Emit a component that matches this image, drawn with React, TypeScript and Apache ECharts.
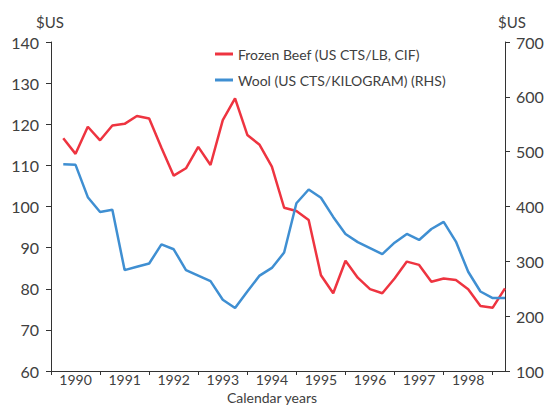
import React, { useEffect, useRef } from "react";
import * as echarts from "echarts";

const years = ["1990", "1991", "1992", "1993", "1994", "1995", "1996", "1997", "1998"];

// quarterly observations (index 1..37 on the time axis)
const beef = [
  116.6, 112.8, 119.4, 116.1, 119.7, 120.1, 122.0, 121.4, 114.3, 107.5,
  109.3, 114.5, 110.1, 121.0, 126.3, 117.4, 115.0, 109.7, 99.7, 98.9,
  96.7, 83.3, 78.9, 86.8, 82.7, 79.9, 78.9, 82.5, 86.6, 85.8,
  81.7, 82.5, 82.1, 79.9, 75.8, 75.4, 80.1,
];
const wool = [
  477, 476, 417, 390, 394, 284, 290, 296, 331, 322,
  284, 274, 264, 230, 215, 245, 274, 288, 316, 406,
  431, 416, 381, 350, 335, 324, 313, 334, 350, 339,
  359, 372, 336, 281, 245, 233, 233,
];
const leftTicks = [60, 140, 10];
const rightTicks = [100, 700, 100];
const xTitle = "Calendar years";

const categories: string[] = [""];
for (let i = 0; i < beef.length; i++) {
  const y = years[Math.floor(i / 4)] || "1999";
  categories.push(y + " Q" + ((i % 4) + 1));
}

export default function App() {
  const ref = useRef<HTMLDivElement>(null);
  useEffect(() => {
    if (!ref.current) return;
    const chart = echarts.init(ref.current, null, { renderer: "svg" });
    const font = "Lato, 'Open Sans', sans-serif";
    const txt = "#404040";
    const axisCol = "#333333";
    chart.setOption({
      animation: false,
      textStyle: { fontFamily: font },
      grid: { left: 51, right: 41, top: 42, bottom: 34, containLabel: false, outerBoundsMode: "none" },
      legend: {
        orient: "vertical",
        left: 210,
        top: 42,
        itemWidth: 18,
        itemHeight: 3,
        itemGap: 12,
        icon: "rect",
        textStyle: { fontSize: 14, color: txt, fontFamily: font },
        data: ["Frozen Beef (US CTS/LB, CIF)", "Wool (US CTS/KILOGRAM) (RHS)"],
      },
      graphic: [
        { type: "text", left: 36, top: 14, style: { text: "$US", fontSize: 15, fill: txt, fontFamily: font } },
        { type: "text", left: 498, top: 14, style: { text: "$US", fontSize: 15, fill: txt, fontFamily: font } },
        {
          type: "text",
          x: 272,
          y: 397.5,
          style: {
            text: xTitle,
            fontSize: 14,
            fill: txt,
            fontFamily: font,
            align: "center",
            verticalAlign: "middle",
          },
        },
      ],
      xAxis: {
        type: "category",
        data: categories,
        boundaryGap: false,
        axisLine: { lineStyle: { color: axisCol, width: 1 } },
        axisTick: {
          length: 4,
          interval: (i: number) => i % 4 === 0,
          lineStyle: { color: axisCol },
        },
        axisLabel: {
          interval: (i: number) => i % 4 === 2,
          formatter: (_v: string, i: number) => years[Math.floor(i / 4)] || "",
          margin: 1,
          fontSize: 14,
          color: txt,
          fontFamily: font,
        },
        splitLine: { show: false },
      },
      yAxis: [
        {
          type: "value",
          min: leftTicks[0],
          max: leftTicks[1],
          interval: leftTicks[2],
          axisLine: { show: true, lineStyle: { color: axisCol } },
          axisTick: { show: true, length: 5, lineStyle: { color: axisCol } },
          axisLabel: { margin: 12, fontSize: 16, color: txt, fontFamily: font },
          splitLine: { show: false },
        },
        {
          type: "value",
          min: rightTicks[0],
          max: rightTicks[1],
          interval: rightTicks[2],
          position: "right",
          axisLine: { show: true, lineStyle: { color: axisCol } },
          axisTick: { show: true, length: 5, lineStyle: { color: axisCol } },
          axisLabel: { margin: 11, fontSize: 16, color: txt, fontFamily: font },
          splitLine: { show: false },
        },
      ],
      series: [
        {
          name: "Frozen Beef (US CTS/LB, CIF)",
          type: "line",
          yAxisIndex: 0,
          data: ["-", ...beef],
          symbol: "none",
          lineStyle: { color: "#EE3440", width: 2.5 },
          itemStyle: { color: "#EE3440" },
        },
        {
          name: "Wool (US CTS/KILOGRAM) (RHS)",
          type: "line",
          yAxisIndex: 1,
          data: ["-", ...wool],
          symbol: "none",
          lineStyle: { color: "#3F8FD2", width: 2.5 },
          itemStyle: { color: "#3F8FD2" },
        },
      ],
    });
    return () => chart.dispose();
  }, []);
  return <div ref={ref} style={{ width: 546, height: 405, position: "absolute", left: 0, top: 0 }} />;
}
